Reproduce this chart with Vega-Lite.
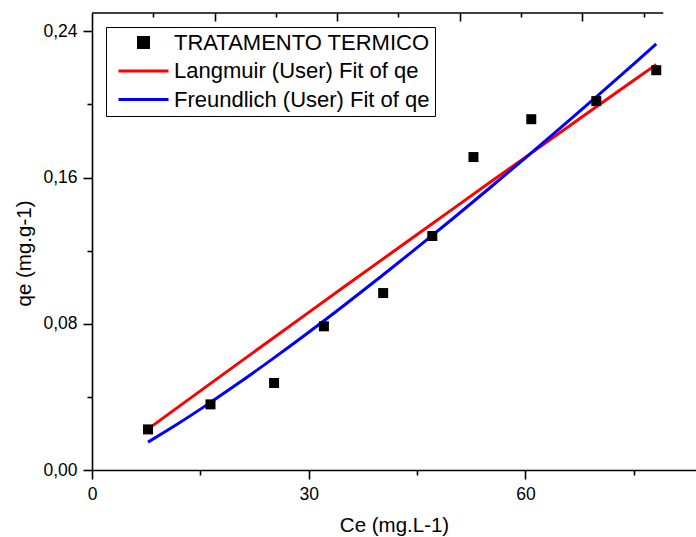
{
  "$schema": "https://vega.github.io/schema/vega-lite/v6.json",
  "width": 604,
  "height": 457,
  "autosize": {"type": "none"},
  "padding": {"left": 92, "top": 13, "right": 0, "bottom": 67},
  "background": "white",
  "config": {
    "view": {"stroke": null},
    "font": "Liberation Sans",
    "axis": {
      "domainColor": "black",
      "domainWidth": 1.6,
      "tickColor": "black",
      "tickWidth": 1.6,
      "labelColor": "black",
      "titleColor": "black",
      "labelFont": "Liberation Sans",
      "titleFont": "Liberation Sans",
      "labelFontSize": 17.5,
      "titleFontSize": 20.5,
      "titleFontWeight": "normal",
      "labelFlush": false,
      "grid": false
    }
  },
  "layer": [
    {
      "data": {
        "values": [
          {"series": "TRATAMENTO TERMICO", "Ce": 7.75, "qe": 0.0222},
          {"series": "TRATAMENTO TERMICO", "Ce": 16.4, "qe": 0.0359},
          {"series": "TRATAMENTO TERMICO", "Ce": 25.2, "qe": 0.0476},
          {"series": "TRATAMENTO TERMICO", "Ce": 32.1, "qe": 0.0786},
          {"series": "TRATAMENTO TERMICO", "Ce": 40.3, "qe": 0.0968},
          {"series": "TRATAMENTO TERMICO", "Ce": 47.1, "qe": 0.128},
          {"series": "TRATAMENTO TERMICO", "Ce": 52.8, "qe": 0.1712},
          {"series": "TRATAMENTO TERMICO", "Ce": 60.8, "qe": 0.1919},
          {"series": "TRATAMENTO TERMICO", "Ce": 69.8, "qe": 0.2018},
          {"series": "TRATAMENTO TERMICO", "Ce": 78.1, "qe": 0.2187},

          {"series": "Langmuir (User) Fit of qe", "Ce": 7.75, "qe": 0.0224},
          {"series": "Langmuir (User) Fit of qe", "Ce": 12, "qe": 0.03465},
          {"series": "Langmuir (User) Fit of qe", "Ce": 16, "qe": 0.04615},
          {"series": "Langmuir (User) Fit of qe", "Ce": 20, "qe": 0.05763},
          {"series": "Langmuir (User) Fit of qe", "Ce": 25, "qe": 0.07195},
          {"series": "Langmuir (User) Fit of qe", "Ce": 30, "qe": 0.08623},
          {"series": "Langmuir (User) Fit of qe", "Ce": 35, "qe": 0.10047},
          {"series": "Langmuir (User) Fit of qe", "Ce": 40, "qe": 0.11468},
          {"series": "Langmuir (User) Fit of qe", "Ce": 45, "qe": 0.12886},
          {"series": "Langmuir (User) Fit of qe", "Ce": 50, "qe": 0.143},
          {"series": "Langmuir (User) Fit of qe", "Ce": 55, "qe": 0.1571},
          {"series": "Langmuir (User) Fit of qe", "Ce": 60, "qe": 0.17117},
          {"series": "Langmuir (User) Fit of qe", "Ce": 65, "qe": 0.18521},
          {"series": "Langmuir (User) Fit of qe", "Ce": 70, "qe": 0.19921},
          {"series": "Langmuir (User) Fit of qe", "Ce": 75, "qe": 0.21317},
          {"series": "Langmuir (User) Fit of qe", "Ce": 78.1, "qe": 0.22181},

          {"series": "Freundlich (User) Fit of qe", "Ce": 7.75, "qe": 0.01526},
          {"series": "Freundlich (User) Fit of qe", "Ce": 12, "qe": 0.02557},
          {"series": "Freundlich (User) Fit of qe", "Ce": 16, "qe": 0.0359},
          {"series": "Freundlich (User) Fit of qe", "Ce": 20, "qe": 0.04672},
          {"series": "Freundlich (User) Fit of qe", "Ce": 25, "qe": 0.06079},
          {"series": "Freundlich (User) Fit of qe", "Ce": 30, "qe": 0.07536},
          {"series": "Freundlich (User) Fit of qe", "Ce": 35, "qe": 0.0904},
          {"series": "Freundlich (User) Fit of qe", "Ce": 40, "qe": 0.10584},
          {"series": "Freundlich (User) Fit of qe", "Ce": 45, "qe": 0.12163},
          {"series": "Freundlich (User) Fit of qe", "Ce": 50, "qe": 0.13772},
          {"series": "Freundlich (User) Fit of qe", "Ce": 55, "qe": 0.15413},
          {"series": "Freundlich (User) Fit of qe", "Ce": 60, "qe": 0.17078},
          {"series": "Freundlich (User) Fit of qe", "Ce": 65, "qe": 0.18771},
          {"series": "Freundlich (User) Fit of qe", "Ce": 70, "qe": 0.2048},
          {"series": "Freundlich (User) Fit of qe", "Ce": 75, "qe": 0.22218},
          {"series": "Freundlich (User) Fit of qe", "Ce": 78.1, "qe": 0.23315}
        ]
      },
      "encoding": {
        "x": {
          "field": "Ce",
          "type": "quantitative",
          "scale": {"domain": [0, 83.6], "nice": false, "zero": false},
          "axis": {
            "title": "Ce (mg.L-1)",
            "values": [0, 15, 30, 45, 60, 75],
            "tickSize": {"condition": {"test": "datum.value % 30 === 0", "value": 9}, "value": 5},
            "labelExpr": "datum.value % 30 === 0 ? datum.label : ''",
            "labelPadding": 6,
            "titleBaseline": "alphabetic",
            "titleY": 61
          }
        },
        "y": {
          "field": "qe",
          "type": "quantitative",
          "scale": {"domain": [0, 0.25], "nice": false, "zero": false},
          "axis": {
            "title": "qe (mg.g-1)",
            "values": [0, 0.04, 0.08, 0.12, 0.16, 0.2, 0.24],
            "tickSize": {"condition": {"test": "round(datum.value * 100) % 8 === 0", "value": 9}, "value": 5},
            "labelExpr": "round(datum.value * 100) % 8 === 0 ? replace(format(datum.value, '.2f'), '.', ',') : ''",
            "labelPadding": 6,
            "titleX": -68,
            "titleY": 240,
            "titleBaseline": "middle"
          }
        },
        "color": {
          "field": "series",
          "type": "nominal",
          "scale": {
            "domain": ["TRATAMENTO TERMICO", "Langmuir (User) Fit of qe", "Freundlich (User) Fit of qe"],
            "range": ["black", "red", "blue"]
          },
          "legend": {
            "title": null,
            "orient": "none",
            "legendX": 14,
            "legendY": 14,
            "strokeColor": "black",
            "fillColor": "white",
            "padding": 5,
            "symbolOffset": 6,
            "symbolSize": 2500,
            "symbolType": "stroke",
            "symbolStrokeWidth": 3,
            "clipHeight": 21,
            "rowPadding": 5.5,
            "labelFont": "Liberation Sans",
            "labelFontSize": 22,
            "labelColor": "black",
            "labelOffset": 4,
            "labelLimit": 400,
            "labelExpr": "datum.label + '  '",
            "encode": {
              "symbols": {
                "update": {
                  "shape": {"signal": "datum.value === 'TRATAMENTO TERMICO' ? 'square' : 'stroke'"},
                  "size": {"signal": "datum.value === 'TRATAMENTO TERMICO' ? 100 : 2500"},
                  "fill": {"signal": "datum.value === 'TRATAMENTO TERMICO' ? 'black' : 'transparent'"},
                  "stroke": {"signal": "datum.value === 'TRATAMENTO TERMICO' ? 'transparent' : (datum.value === 'Langmuir (User) Fit of qe' ? 'red' : 'blue')"},
                  "strokeWidth": {"value": 3},
                  "opacity": {"value": 1},
                  "fillOpacity": {"value": 1},
                  "strokeOpacity": {"value": 1}
                }
              }
            }
          }
        }
      },
      "layer": [
        {
          "transform": [{"filter": "datum.series !== 'TRATAMENTO TERMICO'"}],
          "mark": {"type": "line", "strokeWidth": 3, "interpolate": "monotone"}
        },
        {
          "transform": [{"filter": "datum.series === 'TRATAMENTO TERMICO'"}],
          "mark": {"type": "point", "shape": "square", "filled": true, "size": 100, "opacity": 1}
        }
      ]
    },
    {
      "data": {"values": [{}]},
      "mark": {"type": "rule", "color": "black", "strokeWidth": 1.6},
      "encoding": {
        "x": {
          "datum": 0,
          "type": "quantitative",
          "scale": {"domain": [0, 4.927], "nice": false, "zero": false},
          "axis": {
            "orient": "top",
            "title": null,
            "domain": false,
            "labels": false,
            "values": [0.5, 1, 1.5, 2, 2.5, 3, 3.5, 4, 4.5],
            "tickSize": {"condition": {"test": "datum.value % 1 === 0", "value": -8}, "value": -4}
          }
        },
        "x2": {"datum": 4.66},
        "y": {"datum": 0.25, "type": "quantitative"}
      }
    }
  ],
  "resolve": {"scale": {"x": "independent"}, "axis": {"x": "independent"}}
}
